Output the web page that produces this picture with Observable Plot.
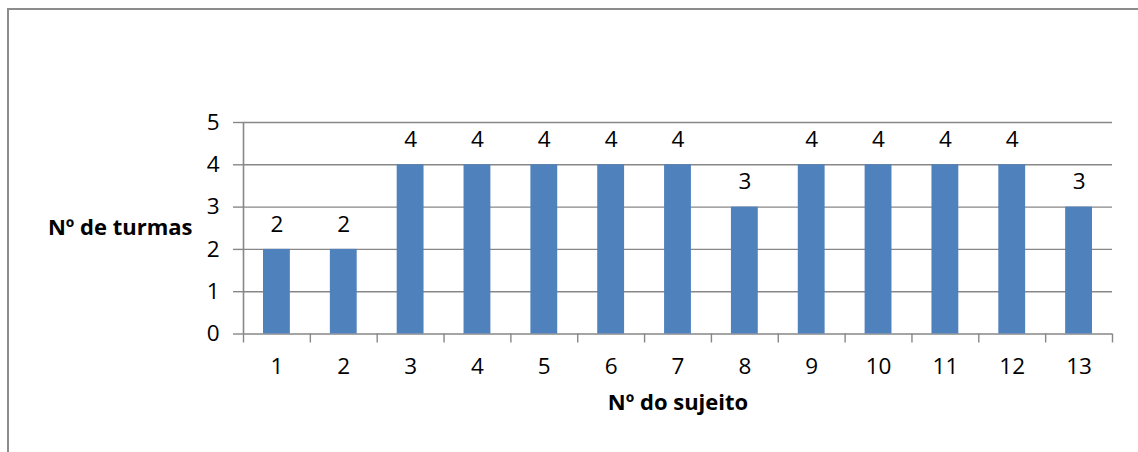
<!DOCTYPE html>
<html>
<head>
<meta charset="utf-8">
<script src="https://cdn.jsdelivr.net/npm/d3@7"></script>
<script src="https://cdn.jsdelivr.net/npm/@observablehq/plot@0.6"></script>
<style>
  html, body { margin: 0; padding: 0; background: #fff; }
  #wrap { position: relative; width: 1138px; height: 452px; overflow: hidden; }
  #frame { position: absolute; left: 7px; top: 8px; right: -4px; bottom: -4px;
           border-left: 2px solid #8c8c8c; border-top: 2px solid #8c8c8c; }
  #chart { position: absolute; left: 0; top: 0; }
</style>
</head>
<body>
<div id="wrap"><div id="frame"></div><div id="chart"></div></div>
<script>
const subjects = [1, 2, 3, 4, 5, 6, 7, 8, 9, 10, 11, 12, 13];
const turmas = [2, 2, 4, 4, 4, 4, 4, 3, 4, 4, 4, 4, 3];
const yTicks = [0, 1, 2, 3, 4, 5];
const yLabel = "Nº de turmas";
const xLabel = "Nº do sujeito";

const data = subjects.map((s, i) => ({s, v: turmas[i]}));
const bounds = [0.5, ...subjects.map(s => s + 0.5)];
const gray = "#878787";
const blue = "#4F81BD";

const chart = Plot.plot({
  width: 1138,
  height: 452,
  marginLeft: 243,
  marginRight: 26,
  marginTop: 122,
  marginBottom: 118.5,
  x: {type: "linear", domain: [0.5, 13.5]},
  y: {domain: [0, 5]},
  style: {fontFamily: "Open Sans", fontSize: "22px", color: "#000", background: "transparent"},
  marks: [
    Plot.gridY(yTicks, {stroke: gray, strokeOpacity: 1, strokeWidth: 1.4}),
    Plot.axisY(yTicks, {tickSize: 10, tickPadding: 14, stroke: gray, strokeWidth: 1.4, label: null, fontSize: 22.5}),
    Plot.ruleX([0.5], {y1: 0, y2: 5, stroke: gray, strokeWidth: 1.6}),
    Plot.axisX(bounds, {tickSize: 9, tickFormat: () => "", stroke: gray, strokeWidth: 1.4, label: null}),
    Plot.axisX(subjects, {tickSize: 0, tickPadding: 24, label: null, fontSize: 22.5}),
    Plot.rectY(data, {x1: d => d.s - 0.5, x2: d => d.s + 0.5, y: "v", insetLeft: 20, insetRight: 20, fill: blue}),
    Plot.text(data, {x: "s", y: "v", text: d => String(d.v), dy: -25, fontSize: 22.5, fill: "#000"}),
    Plot.text([yLabel], {frameAnchor: "left", dx: -51, textAnchor: "end", fontWeight: "bold", fontSize: 22, fill: "#000"}),
    Plot.text([xLabel], {frameAnchor: "bottom", dy: 76, fontWeight: "bold", fontSize: 22, fill: "#000"})
  ]
});
document.getElementById("chart").appendChild(chart);
</script>
</body>
</html>
